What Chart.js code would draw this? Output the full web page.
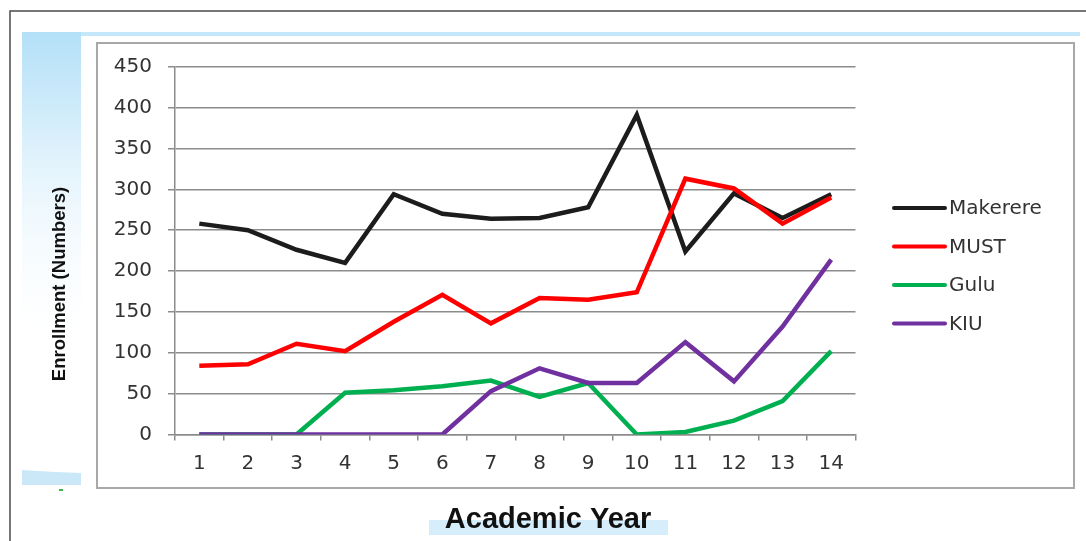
<!DOCTYPE html>
<html>
<head>
<meta charset="utf-8">
<script src="https://cdn.jsdelivr.net/npm/chart.js@4.4.1/dist/chart.umd.min.js"></script>
<style>
  html, body { margin: 0; padding: 0; background: #fff; }
  #wrap { position: relative; width: 1086px; height: 541px; }
</style>
</head>
<body>
<div id="wrap"><canvas id="enrollChart"></canvas></div>
<script>
// values
const years = ['1', '2', '3', '4', '5', '6', '7', '8', '9', '10', '11', '12', '13', '14'];
const makerere = [258, 250, 226, 210, 294, 270, 264, 265, 278, 391, 224, 295, 265, 294];
const must = [84, 86, 111, 102, 138, 171, 136, 167, 165, 174, 313, 301, 258, 290];
const gulu = [0, 0, 0, 51, 54, 59, 66, 46, 63, 0, 3, 17, 41, 102];
const kiu = [0, 0, 0, 0, 0, 0, 53, 81, 63, 63, 113, 65, 132, 214];
const yTicks = [0, 50, 100, 150, 200, 250, 300, 350, 400, 450];

const tickFont = { family: 'DejaVu Sans', size: 20 };
const gridGray = '#8c8c8c';

// frame, blue bands, titles and the legend on the right
const decorPlugin = {
  id: 'decor',
  beforeDraw(chart) {
    const ctx = chart.ctx;
    ctx.save();
    ctx.fillStyle = '#fff';
    ctx.fillRect(0, 0, chart.width, chart.height);

    // outer frame (left + top)
    ctx.strokeStyle = '#4a4a4a';
    ctx.lineWidth = 1.5;
    ctx.beginPath();
    ctx.moveTo(10, chart.height);
    ctx.lineTo(10, 11);
    ctx.lineTo(chart.width, 11);
    ctx.stroke();

    // light blue bands
    ctx.fillStyle = '#c4e7f9';
    ctx.fillRect(22, 32, 1058, 4);
    const grad = ctx.createLinearGradient(0, 32, 0, 360);
    grad.addColorStop(0, '#b4e0f8');
    grad.addColorStop(0.4, '#e2f3fc');
    grad.addColorStop(1, 'rgba(255,255,255,0)');
    ctx.fillStyle = grad;
    ctx.fillRect(22, 32, 59, 328);
    ctx.fillStyle = '#cbe8f8';
    ctx.beginPath();
    ctx.moveTo(22, 470);
    ctx.quadraticCurveTo(50, 472, 81, 473);
    ctx.lineTo(81, 485);
    ctx.lineTo(22, 485);
    ctx.closePath();
    ctx.fill();
    ctx.fillStyle = '#3cb34a';
    ctx.fillRect(59, 489, 4, 2);

    // inner chart box
    ctx.fillStyle = '#fff';
    ctx.fillRect(97, 43, 977, 445);
    ctx.strokeStyle = '#a8a8a8';
    ctx.lineWidth = 2;
    ctx.strokeRect(97, 43, 977, 445);

    // x title highlight
    ctx.fillStyle = '#d6eefb';
    ctx.fillRect(429, 520, 239, 15);
    ctx.restore();
  },
  afterDraw(chart) {
    const ctx = chart.ctx;
    ctx.save();
    // axis titles
    ctx.fillStyle = '#111';
    ctx.textAlign = 'center';
    ctx.font = 'bold 29px "Liberation Sans", Arial, sans-serif';
    ctx.textBaseline = 'alphabetic';
    ctx.fillText('Academic Year', 548, 528);

    ctx.translate(60, 284);
    ctx.rotate(-Math.PI / 2);
    ctx.font = 'bold 18.5px "Liberation Sans", Arial, sans-serif';
    ctx.textBaseline = 'middle';
    ctx.fillText('Enrollment (Numbers)', 0, 0);
    ctx.restore();

    // legend
    ctx.save();
    ctx.font = '20px "DejaVu Sans", sans-serif';
    ctx.textBaseline = 'middle';
    ctx.textAlign = 'left';
    chart.data.datasets.forEach((ds, i) => {
      const y = 208 + i * 38.5;
      ctx.strokeStyle = ds.borderColor;
      ctx.lineWidth = 4;
      ctx.lineCap = 'round';
      ctx.beginPath();
      ctx.moveTo(894, y);
      ctx.lineTo(945, y);
      ctx.stroke();
      ctx.fillStyle = '#333';
      ctx.fillText(ds.label, 949, y + 1);
    });
    ctx.restore();
  }
};

function series(label, data, color, order) {
  return {
    label: label,
    data: data,
    borderColor: color,
    backgroundColor: color,
    borderWidth: 4.5,
    pointRadius: 0,
    tension: 0,
    fill: false,
    order: order,
    borderJoinStyle: 'miter'
  };
}

const ctx = document.getElementById('enrollChart').getContext('2d');
const enrollChart = new Chart(ctx, {
  type: 'line',
  data: {
    labels: years,
    datasets: [
      series('Makerere', makerere, '#1c1c1c', 4),
      series('MUST', must, '#ff0000', 3),
      series('Gulu', gulu, '#00b050', 2),
      series('KIU', kiu, '#7030a0', 1)
    ]
  },
  options: {
    responsive: true,
    maintainAspectRatio: false,
    animation: false,
    layout: { padding: { left: 40, right: 230.5, top: 66.7, bottom: 40 } },
    plugins: {
      legend: { display: false },
      tooltip: { enabled: false }
    },
    scales: {
      x: {
        offset: true,
        grid: {
          offset: true,
          drawOnChartArea: false,
          drawTicks: true,
          tickLength: 6,
          color: gridGray,
          lineWidth: 1.5
        },
        border: { display: true, color: gridGray, width: 1.5 },
        ticks: { color: '#333', font: tickFont, padding: 11, maxRotation: 0 },
        afterFit(scale) { scale.height = 541 - 434.5 - 40; }
      },
      y: {
        min: 0,
        max: 450,
        afterBuildTicks(scale) { scale.ticks = yTicks.map(v => ({ value: v })); },
        grid: {
          color: gridGray,
          lineWidth: 1.5,
          drawTicks: true,
          tickLength: 7
        },
        border: { display: true, color: gridGray, width: 1.5 },
        ticks: { color: '#333', font: tickFont, padding: 16 },
        afterFit(scale) { scale.width = 175 - 40; }
      }
    }
  },
  plugins: [decorPlugin]
});
</script>
</body>
</html>
